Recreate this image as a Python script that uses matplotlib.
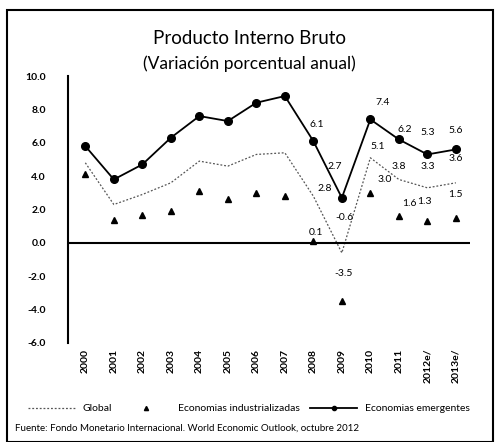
import numpy as np
import matplotlib
matplotlib.use('Agg')
import matplotlib.pyplot as plt
from matplotlib.lines import Line2D
from matplotlib.patches import Rectangle

plt.rcParams['font.family'] = ['Lato', 'DejaVu Sans']

# data
years = ['2000', '2001', '2002', '2003', '2004', '2005', '2006', '2007',
         '2008', '2009', '2010', '2011', '2012e/', '2013e/']
global_pib = [4.8, 2.3, 2.9, 3.6, 4.9, 4.6, 5.3, 5.4, 2.8, -0.6, 5.1, 3.8, 3.3, 3.6]
industrial = [4.1, 1.4, 1.7, 1.9, 3.1, 2.6, 3.0, 2.8, 0.1, -3.5, 3.0, 1.6, 1.3, 1.5]
emergentes = [5.8, 3.8, 4.7, 6.3, 7.6, 7.3, 8.4, 8.8, 6.1, 2.7, 7.4, 6.2, 5.3, 5.6]
yticks = [10, 8, 6, 4, 2, 0, -2, -4, -6]

# label offsets (pixels) for the labelled years 2008..2013
first = 8
off_emer = [(3, 17), (-7, 31), (12, 17), (6, 10), (0, 22), (0, 19)]
off_glob = [(11, 8), (3, 35), (7, 11), (0, 13), (0, 21), (0, 24)]
off_ind = [(3, 9), (2, 28), (14, 13), (11, 13), (-3, 20), (0, 23)]

x = np.arange(len(years))

fig = plt.figure(figsize=(4.98, 4.42), dpi=100)
ax = fig.add_axes([0.137, 0.224, 0.807, 0.604])

ax.plot(x, global_pib, color='#555555', lw=0.9, ls=(0, (1.5, 1.5)))
ax.plot(x, industrial, ls='none', marker='^', ms=4.5, color='black')
ax.plot(x, emergentes, color='black', lw=1.3, marker='o', ms=5.5)

ax.axhline(0, color='black', lw=1.5)

px = 0.72  # pixels -> points
for series, offs in [(emergentes, off_emer), (global_pib, off_glob), (industrial, off_ind)]:
    for k, i in enumerate(range(first, len(years))):
        dx, dy = offs[k]
        ax.annotate('%.1f' % series[i], (x[i], series[i]), xytext=(dx * px, dy * px),
                    textcoords='offset points', ha='center', va='center', fontsize=7.5)

ax.set_xlim(-0.6, len(years) - 0.5)
ax.set_ylim(-6, 10)
ax.set_yticks(yticks)
ax.set_yticklabels(['%.1f' % v for v in yticks], fontsize=7.5, fontweight='bold')
ax.set_xticks(x)
ax.set_xticklabels(years, rotation=90, fontsize=7.5, fontweight='bold')
ax.tick_params(axis='x', length=0, pad=4)
ax.tick_params(axis='y', length=0, pad=16)
for s in ['top', 'right', 'bottom']:
    ax.spines[s].set_visible(False)
ax.spines['left'].set_linewidth(1.5)

fig.text(0.5, 0.914, 'Producto Interno Bruto', ha='center', va='center', fontsize=13.5)
fig.text(0.5, 0.855, '(Variación porcentual anual)', ha='center', va='center', fontsize=12.5)

handles = [
    Line2D([], [], color='#555555', lw=0.9, ls=(0, (1.5, 1.5))),
    Line2D([], [], ls='none', marker='^', ms=3, color='black'),
    Line2D([], [], color='black', lw=1.3, marker='o', ms=3),
]
fig.legend(handles, ['Global', 'Economias industrializadas', 'Economias emergentes'],
           loc='center', bbox_to_anchor=(0.5, 0.075), ncol=3, frameon=False,
           fontsize=7.5, handlelength=4.5, columnspacing=1.0, handletextpad=0.8)

fig.text(0.03, 0.032, 'Fuente: Fondo Monetario Internacional. World Economic Outlook, octubre 2012',
         fontsize=7, va='center')

fig.patches.append(Rectangle((0.014, 0.0), 0.976, 0.978, transform=fig.transFigure,
                             fill=False, edgecolor='black', lw=1.5))

fig.savefig('out.png', dpi=100)
